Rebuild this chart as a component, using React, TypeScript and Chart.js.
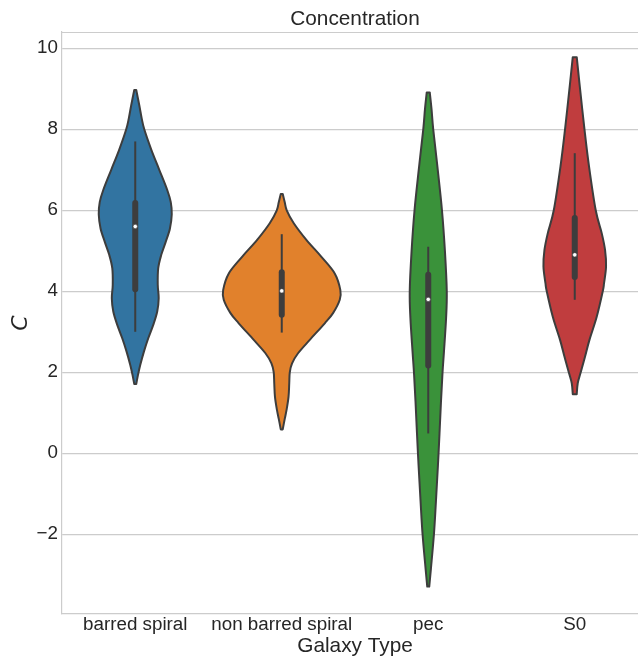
import React, { useEffect, useRef } from "react";
import { Chart, registerables } from "chart.js";

Chart.register(...registerables);

// ---- data ----
const categories = ["barred spiral", "non barred spiral", "pec", "S0"];
const yTicks = [-2, 0, 2, 4, 6, 8, 10];

// violin outlines: C values (top to bottom) and relative density (1 = widest violin)
const barredY = [8.97, 8.6, 8.27, 8.0, 7.5, 7.0, 6.5, 6.2, 5.9, 5.55, 5.22, 4.9, 4.57, 4.16, 3.83, 3.5, 3.17, 2.84, 2.51, 2.18, 1.93, 1.71];
const barredD = [0.017, 0.068, 0.11, 0.154, 0.273, 0.41, 0.546, 0.606, 0.623, 0.592, 0.52, 0.444, 0.392, 0.384, 0.4, 0.375, 0.307, 0.222, 0.148, 0.085, 0.046, 0.017];

const nonBarredY = [6.4, 6.2, 6.0, 5.68, 5.27, 4.85, 4.44, 4.03, 3.79, 3.46, 3.21, 2.8, 2.47, 2.22, 2.0, 1.73, 1.4, 1.07, 0.85, 0.59];
const nonBarredD = [0.017, 0.051, 0.085, 0.205, 0.42, 0.677, 0.904, 1.0, 0.99, 0.875, 0.734, 0.478, 0.278, 0.176, 0.137, 0.128, 0.116, 0.082, 0.051, 0.017];

const pecY = [8.91, 8.5, 8.0, 7.04, 6.0, 4.98, 4.0, 3.33, 2.51, 2.0, 1.27, 0, -1.19, -2.0, -2.84, -3.29];
const pecD = [0.026, 0.056, 0.085, 0.159, 0.234, 0.285, 0.316, 0.304, 0.268, 0.244, 0.217, 0.176, 0.131, 0.097, 0.046, 0.017];

const s0Y = [9.78, 9.14, 8.0, 7.08, 6.0, 5.43, 5.02, 4.61, 4.2, 4.0, 3.37, 2.8, 2.39, 2.0, 1.73, 1.46];
const s0D = [0.034, 0.08, 0.166, 0.244, 0.358, 0.461, 0.517, 0.534, 0.5, 0.478, 0.375, 0.251, 0.176, 0.102, 0.051, 0.034];

// inner box statistics
const medians = [5.6, 4.01, 3.8, 4.9];
const q1 = [4.05, 3.42, 2.17, 4.35];
const q3 = [6.18, 4.47, 4.41, 5.81];
const whiskerLow = [3.0, 2.98, 0.49, 3.79];
const whiskerHigh = [7.7, 5.41, 5.1, 7.41];

// ---- style ----
const COLORS = ["#3274a1", "#e1812c", "#3a923a", "#c03d3e"];
const OUTLINE = "#3d3d3d";
const GRID = "#cccccc";
const TEXT = "#262626";
const FONT = "'Liberation Sans', Arial, sans-serif";
const VIOLIN_WIDTH = 0.8;
const Y_MIN = -3.968;
const Y_MAX = 10.402;

const profiles = [
  { y: barredY, d: barredD },
  { y: nonBarredY, d: nonBarredD },
  { y: pecY, d: pecD },
  { y: s0Y, d: s0D },
];

type P = { x: number; y: number };

function splineThrough(ctx: CanvasRenderingContext2D, pts: P[]) {
  for (let i = 0; i < pts.length - 1; i++) {
    const p0 = pts[i - 1] || pts[i];
    const p1 = pts[i];
    const p2 = pts[i + 1];
    const p3 = pts[i + 2] || pts[i + 1];
    const c1x = p1.x + (p2.x - p0.x) / 6;
    const c1y = p1.y + (p2.y - p0.y) / 6;
    const c2x = p2.x - (p3.x - p1.x) / 6;
    const c2y = p2.y - (p3.y - p1.y) / 6;
    ctx.bezierCurveTo(c1x, c1y, c2x, c2y, p2.x, p2.y);
  }
}

const violinPlugin = {
  id: "violins",
  beforeDatasetsDraw(chart: any) {
    const { ctx, chartArea } = chart;
    const xs = chart.scales.x;
    const ys = chart.scales.y;
    ctx.save();
    // top spine
    ctx.strokeStyle = GRID;
    ctx.lineWidth = 1.2;
    ctx.beginPath();
    ctx.moveTo(chartArea.left, chartArea.top + 0.5);
    ctx.lineTo(chartArea.right, chartArea.top + 0.5);
    ctx.stroke();

    const half = VIOLIN_WIDTH / 2;
    profiles.forEach((p, i) => {
      const right: P[] = p.y.map((v, k) => ({
        x: xs.getPixelForValue(i + p.d[k] * half),
        y: ys.getPixelForValue(v),
      }));
      const left: P[] = p.y
        .map((v, k) => ({
          x: xs.getPixelForValue(i - p.d[k] * half),
          y: ys.getPixelForValue(v),
        }))
        .reverse();
      ctx.beginPath();
      ctx.moveTo(right[0].x, right[0].y);
      splineThrough(ctx, right);
      ctx.lineTo(left[0].x, left[0].y);
      splineThrough(ctx, left);
      ctx.closePath();
      ctx.fillStyle = COLORS[i];
      ctx.fill();
      ctx.strokeStyle = OUTLINE;
      ctx.lineWidth = 2;
      ctx.lineJoin = "round";
      ctx.stroke();

      const cx = xs.getPixelForValue(i);
      // whisker
      ctx.beginPath();
      ctx.lineCap = "butt";
      ctx.lineWidth = 2;
      ctx.moveTo(cx, ys.getPixelForValue(whiskerHigh[i]));
      ctx.lineTo(cx, ys.getPixelForValue(whiskerLow[i]));
      ctx.stroke();
      // box
      ctx.beginPath();
      ctx.lineCap = "round";
      ctx.lineWidth = 6;
      ctx.moveTo(cx, ys.getPixelForValue(q3[i]));
      ctx.lineTo(cx, ys.getPixelForValue(q1[i]));
      ctx.stroke();
    });
    ctx.restore();
  },
};

export default function App() {
  const ref = useRef<HTMLCanvasElement | null>(null);

  useEffect(() => {
    if (!ref.current) return;
    const chart = new Chart(ref.current, {
      type: "scatter",
      data: {
        datasets: [
          {
            data: medians.map((m, i) => ({ x: i, y: m })),
            pointRadius: 2.2,
            pointHoverRadius: 2.2,
            pointBackgroundColor: "#ffffff",
            pointBorderColor: OUTLINE,
            pointBorderWidth: 0.6,
          },
        ],
      },
      options: {
        responsive: false,
        animation: false,
        devicePixelRatio: 1,
        events: [],
        layout: { padding: { left: 0, right: 12, top: 0, bottom: 0 } },
        plugins: {
          legend: { display: false },
          tooltip: { enabled: false },
          title: {
            display: true,
            text: "Concentration",
            fullSize: false,
            color: TEXT,
            font: { family: FONT, size: 20.8, weight: "normal" },
            padding: { top: 6.6, bottom: 0.44 },
          },
        },
        scales: {
          x: {
            type: "linear",
            min: -0.5,
            max: 3.5,
            afterBuildTicks: (s: any) => {
              s.ticks = categories.map((_, i) => ({ value: i }));
            },
            afterFit: (s: any) => {
              s.height = 46;
            },
            grid: { display: false, drawTicks: false, tickLength: 0 },
            border: { display: true, color: GRID, width: 1.2 },
            ticks: {
              autoSkip: false,
              maxRotation: 0,
              padding: 0,
              color: TEXT,
              font: { family: FONT, size: 18.8 },
              callback: (v: any) => categories[v as number],
            },
            title: {
              display: true,
              text: "Galaxy Type",
              color: TEXT,
              font: { family: FONT, size: 20.8 },
              padding: { top: 0, bottom: 1.7 },
            },
          },
          y: {
            type: "linear",
            min: Y_MIN,
            max: Y_MAX,
            afterBuildTicks: (s: any) => {
              s.ticks = yTicks.map((v) => ({ value: v }));
            },
            afterFit: (s: any) => {
              s.width = 62;
            },
            grid: { color: GRID, lineWidth: 1.2, drawTicks: false, tickLength: 0 },
            border: { display: true, color: GRID, width: 1.2 },
            ticks: {
              padding: 4,
              color: TEXT,
              font: { family: FONT, size: 18.8 },
              callback: (v: any) => (v < 0 ? "\u2212" + Math.abs(v) : String(v)),
            },
            title: {
              display: true,
              text: "C",
              color: TEXT,
              font: { family: "'DejaVu Sans', sans-serif", size: 22, style: "italic" },
              padding: { top: 8.5, bottom: 0 },
            },
          },
        },
      },
      plugins: [violinPlugin],
    } as any);
    return () => chart.destroy();
  }, []);

  return (
    <div
      style={{
        position: "absolute",
        left: 0,
        top: 0,
        width: 638,
        height: 660,
        overflow: "hidden",
        background: "#ffffff",
      }}
    >
      <canvas ref={ref} width={660} height={660} style={{ display: "block", width: 660, height: 660 }} />
    </div>
  );
}
